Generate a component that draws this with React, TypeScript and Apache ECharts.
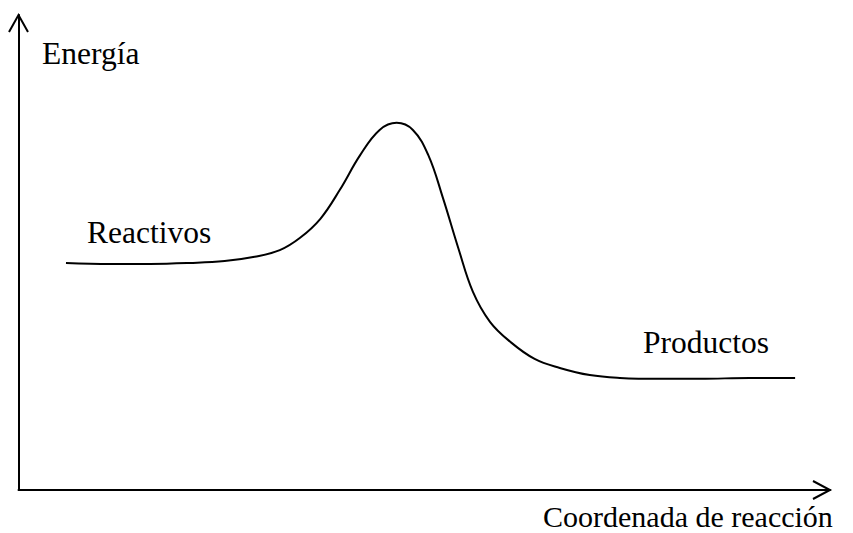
import React, { useEffect, useRef } from "react";
import * as echarts from "echarts";

// Reaction coordinate (0..100) and energy (0..100)
const reactionCoord = [5.85, 11.3, 16.2, 21.1, 25.4, 29.1, 32.2, 34.7, 37.2, 39.6, 42.1, 44.5, 46.6, 48.6, 50.5, 52.3, 54.2, 56.0, 58.1, 60.6, 63.6, 66.7, 70.4, 74.1, 79.0, 84.0, 90.1, 95.7];
const energy = [47.8, 47.6, 47.6, 47.8, 48.2, 49.1, 50.5, 53.1, 57.1, 63.2, 70.5, 75.8, 77.3, 75.8, 70.5, 61.5, 50.9, 41.7, 35.4, 31.2, 27.6, 25.7, 24.2, 23.6, 23.4, 23.4, 23.6, 23.6];

const yAxisTitle = "Energía";
const xAxisTitle = "Coordenada de reacción";
const reactantsLabel = "Reactivos";
const productsLabel = "Productos";

const W = 853;
const H = 533;
const AX_X = 18.5; // left axis pixel
const AX_Y = 490; // bottom axis pixel
const AX_TOP = 15;
const AX_RIGHT = 830;

export default function App() {
  const ref = useRef<HTMLDivElement>(null);
  useEffect(() => {
    if (!ref.current) return;
    const chart = echarts.init(ref.current, null, { renderer: "svg" });
    const font = '31.5px "Liberation Serif", "Times New Roman", serif';
    const fontAxis = '30px "Liberation Serif", "Times New Roman", serif';
    const lineStyle = { stroke: "#000", lineWidth: 2, fill: "none" };
    chart.setOption({
      animation: false,
      backgroundColor: "#fff",
      grid: { left: AX_X, top: AX_TOP, right: W - AX_RIGHT, bottom: H - AX_Y, containLabel: false },
      xAxis: {
        type: "value",
        min: 0,
        max: 100,
        axisLine: { show: true, onZero: false, lineStyle: { color: "#000", width: 2 } },
        axisTick: { show: false },
        axisLabel: { show: false },
        splitLine: { show: false },
      },
      yAxis: {
        type: "value",
        min: 0,
        max: 100,
        axisLine: { show: true, onZero: false, lineStyle: { color: "#000", width: 2 } },
        axisTick: { show: false },
        axisLabel: { show: false },
        splitLine: { show: false },
      },
      series: [
        {
          type: "line",
          data: reactionCoord.map((x, i) => [x, energy[i]]),
          smooth: 0.4,
          showSymbol: false,
          symbol: "none",
          lineStyle: { color: "#000", width: 2 },
        },
      ],
      graphic: [
        {
          type: "polyline",
          shape: { points: [[AX_X - 9.5, AX_TOP + 17], [AX_X, AX_TOP], [AX_X + 9.5, AX_TOP + 17]] },
          style: lineStyle,
        },
        {
          type: "polyline",
          shape: { points: [[AX_RIGHT - 17, AX_Y - 9], [AX_RIGHT, AX_Y], [AX_RIGHT - 17, AX_Y + 9]] },
          style: lineStyle,
        },
        { type: "text", x: 42, y: 53, style: { text: yAxisTitle, font, fill: "#000", textVerticalAlign: "middle" } },
        { type: "text", x: 87, y: 232, style: { text: reactantsLabel, font, fill: "#000", textVerticalAlign: "middle" } },
        { type: "text", x: 643, y: 342, style: { text: productsLabel, font, fill: "#000", textVerticalAlign: "middle" } },
        { type: "text", x: 543, y: 516, style: { text: xAxisTitle, font: fontAxis, fill: "#000", textVerticalAlign: "middle" } },
      ],
    });
    return () => chart.dispose();
  }, []);
  return <div ref={ref} style={{ position: "absolute", left: 0, top: 0, width: W, height: H }} />;
}
